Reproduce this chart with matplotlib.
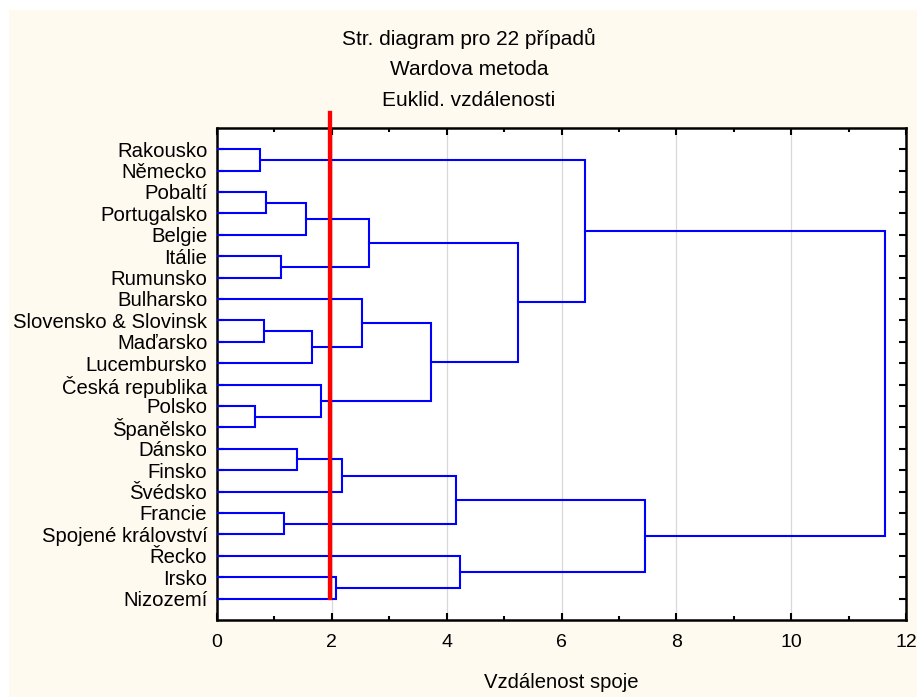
import matplotlib
matplotlib.use("Agg")
import matplotlib.pyplot as plt
from matplotlib.patches import Rectangle

# ---- data ----
labels = ["Rakousko", "Německo", "Pobaltí", "Portugalsko", "Belgie", "Itálie",
          "Rumunsko", "Bulharsko", "Slovensko & Slovinsk", "Maďarsko",
          "Lucembursko", "Česká republika", "Polsko", "Španělsko", "Dánsko",
          "Finsko", "Švédsko", "Francie", "Spojené království", "Řecko",
          "Irsko", "Nizozemí"]
# merges: (child_a, child_b) ; ids >= 22 refer to earlier merges (scipy style)
merge_a = [0, 2, 23, 5, 24, 8, 27, 7, 12, 11, 29, 26, 22, 14, 35, 17, 36, 20, 19, 38, 34]
merge_b = [1, 3, 4, 6, 25, 9, 10, 28, 13, 30, 31, 32, 33, 15, 16, 18, 37, 21, 39, 40, 41]
merge_h = [0.75, 0.85, 1.55, 1.11, 2.64, 0.82, 1.66, 2.52, 0.67, 1.82, 3.73,
           5.25, 6.41, 1.40, 2.17, 1.16, 4.16, 2.08, 4.24, 7.46, 11.63]
cut_distance = 1.97
title_lines = ["Str. diagram pro 22 případů", "Wardova metoda", "Euklid. vzdálenosti"]
xlabel = "Vzdálenost spoje"

W, H = 917, 697
fig = plt.figure(figsize=(W / 100, H / 100), dpi=100)
fig.patch.set_facecolor("white")
fig.patches.append(Rectangle((9 / W, 0), 1 - 9 / W, 1 - 10 / H,
                             transform=fig.transFigure, facecolor="#FFFAEF",
                             edgecolor="none", zorder=-10))

ax = fig.add_axes([217 / W, 1 - 620 / H, (906 - 217) / W, (620 - 127.7) / H])
ax.set_facecolor("white")

n = len(labels)
pos = {i: (i + 1, 0.0) for i in range(n)}
for k, (a, b, h) in enumerate(zip(merge_a, merge_b, merge_h)):
    ya, ha = pos[a]
    yb, hb = pos[b]
    ax.plot([ha, h, h, hb], [ya, ya, yb, yb], color="#0000FF", lw=1.5,
            solid_joinstyle="miter", zorder=3)
    pos[n + k] = ((ya + yb) / 2, h)

ax.set_xlim(0, 12)
ax.set_ylim(n + 1, 0)
ax.set_xticks(range(0, 13, 2))
ax.set_xticks(range(0, 13, 1), minor=True)
ax.set_yticks(range(1, n + 1))
ax.set_yticklabels(labels, fontsize=14.6, family=["Liberation Sans", "DejaVu Sans"])
ax.xaxis.grid(True, which="major", color="#D8D8D8", lw=0.9, zorder=0)
ax.tick_params(axis="both", which="both", direction="in", top=True, right=True,
               width=1.5, color="black")
ax.tick_params(axis="x", which="major", length=5, pad=10)
ax.tick_params(axis="x", which="minor", length=3)
ax.tick_params(axis="y", which="major", length=5, pad=7)
for lab in ax.get_xticklabels():
    lab.set_family(["Liberation Sans Narrow", "Liberation Sans"])
    lab.set_fontsize(14)
for s in ax.spines.values():
    s.set_linewidth(1.8)
    s.set_color("black")

ax.plot([cut_distance, cut_distance], [-0.7, 21.95], color="#FF0000", lw=3.1,
        clip_on=False, zorder=5)

for i, t in enumerate(title_lines):
    fig.text(469 / W, 1 - (38 + i * 31.5) / H, t, ha="center",
             va="center", fontsize=15, family=["Liberation Sans", "DejaVu Sans"])
fig.text(0.5 * (217 + 906) / W, 1 - 682 / H, xlabel, ha="center", va="center",
         fontsize=14.6, family=["Liberation Sans Narrow", "Liberation Sans"])

fig.savefig("out.png", dpi=100, facecolor=fig.get_facecolor())
